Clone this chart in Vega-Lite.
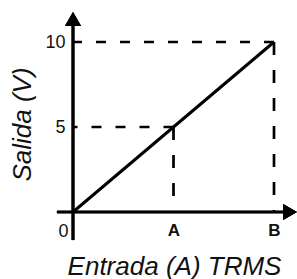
{
  "$schema": "https://vega.github.io/schema/vega-lite/v6.json",
  "width": 224,
  "height": 200,
  "autosize": {"type": "none"},
  "padding": {"left": 73, "top": 12, "right": 0, "bottom": 67},
  "background": "white",
  "config": {"view": {"stroke": null}, "font": "Liberation Sans"},
  "data": {"values": [
    {"entrada": 0, "salida": 0, "punto": "0"},
    {"entrada": 5, "salida": 5, "punto": "A"},
    {"entrada": 10, "salida": 10, "punto": "B"}
  ]},
  "layer": [
    {
      "mark": {"type": "line", "color": "black", "strokeWidth": 3, "clip": false},
      "encoding": {
        "x": {
          "field": "entrada", "type": "quantitative",
          "scale": {"domain": [0, 11.144], "nice": false, "zero": false},
          "axis": {
            "values": [0, 5, 10],
            "labelExpr": "datum.value == 0 ? '0' : (datum.value == 5 ? 'A' : 'B')",
            "domain": false, "ticks": false, "grid": false,
            "labelColor": "#111",
            "labelFontSize": {"condition": {"test": "datum.value == 0", "value": 18}, "value": 17},
            "labelFontWeight": {"condition": {"test": "datum.value == 0", "value": "normal"}, "value": "bold"},
            "labelOffset": {"condition": {"test": "datum.value == 0", "value": -10}, "value": 0},
            "labelPadding": 10,
            "labelFlush": false,
            "labelOverlap": false,
            "title": "Entrada (A) TRMS",
            "titleFontSize": 26,
            "titleFontStyle": "italic",
            "titleFontWeight": "normal",
            "titleColor": "#111",
            "titleX": 101,
            "titleY": 62,
            "titleAlign": "center",
            "titleBaseline": "alphabetic"
          }
        },
        "y": {
          "field": "salida", "type": "quantitative",
          "scale": {"domain": [0, 11.765], "nice": false, "zero": false},
          "axis": {
            "values": [5, 10],
            "domain": false, "ticks": false, "grid": false,
            "labelColor": "#111",
            "labelFontSize": 18,
            "labelPadding": 8,
            "labelFlush": false,
            "labelOverlap": false,
            "title": "Salida (V)",
            "titleFontSize": 26,
            "titleFontStyle": "italic",
            "titleFontWeight": "normal",
            "titleColor": "#111",
            "titleAngle": 270,
            "titleX": -51,
            "titleY": 112,
            "titleAlign": "center",
            "titleBaseline": "middle"
          }
        }
      }
    },
    {
      "transform": [{"filter": "datum.entrada > 0"}],
      "mark": {"type": "rule", "color": "black", "strokeWidth": 2.7, "strokeDash": [10, 14], "clip": false},
      "encoding": {
        "x": {"field": "entrada", "type": "quantitative"},
        "x2": {"datum": 0},
        "y": {"field": "salida", "type": "quantitative"}
      }
    },
    {
      "transform": [{"filter": "datum.entrada > 0"}],
      "mark": {"type": "rule", "color": "black", "strokeWidth": 2.7, "strokeDash": [13, 15], "clip": false},
      "encoding": {
        "x": {"field": "entrada", "type": "quantitative"},
        "y": {"field": "salida", "type": "quantitative"},
        "y2": {"datum": 0}
      }
    },
    {
      "mark": {"type": "rule", "color": "black", "strokeWidth": 2.7, "clip": false},
      "encoding": {
        "x": {"datum": 0, "type": "quantitative"},
        "y": {"datum": -1.65, "type": "quantitative"},
        "y2": {"datum": 11.0}
      }
    },
    {
      "mark": {"type": "rule", "color": "black", "strokeWidth": 2.7, "clip": false},
      "encoding": {
        "y": {"datum": 0, "type": "quantitative"},
        "x": {"datum": -0.8, "type": "quantitative"},
        "x2": {"datum": 10.5}
      }
    },
    {
      "mark": {"type": "point", "shape": "triangle-up", "filled": true, "color": "black", "opacity": 1, "size": 256, "clip": false},
      "encoding": {
        "x": {"datum": 0, "type": "quantitative"},
        "y": {"datum": 11.353, "type": "quantitative"}
      }
    },
    {
      "mark": {"type": "point", "shape": "triangle-right", "filled": true, "color": "black", "opacity": 1, "size": 256, "clip": false},
      "encoding": {
        "x": {"datum": 10.796, "type": "quantitative"},
        "y": {"datum": 0, "type": "quantitative"}
      }
    }
  ]
}
